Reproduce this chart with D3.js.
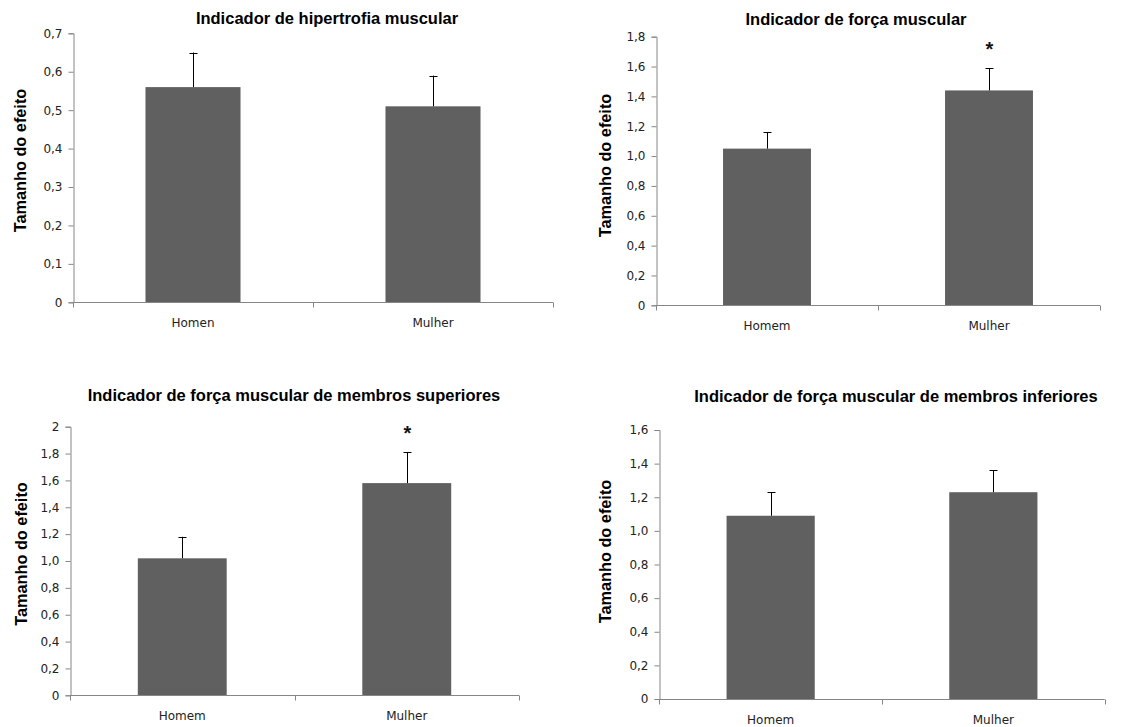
<!DOCTYPE html>
<html>
<head>
<meta charset="utf-8">
<script src="https://cdn.jsdelivr.net/npm/d3@7"></script>
<style>
  html, body { margin: 0; padding: 0; background: #fff; }
  svg { display: block; }
</style>
</head>
<body>
<svg id="chart" width="1145" height="727"></svg>
<script>
// ---- data ----
const categoriesP1 = ["Homen", "Mulher"];
const categories = ["Homem", "Mulher"];

const titles = [
  "Indicador de hipertrofia muscular",
  "Indicador de força muscular",
  "Indicador de força muscular de membros superiores",
  "Indicador de força muscular de membros inferiores"
];
const yAxisLabel = "Tamanho do efeito";

const hipertrofiaValues = [0.56, 0.51];
const hipertrofiaErrors = [0.09, 0.08];
const forcaValues = [1.05, 1.44];
const forcaErrors = [0.11, 0.15];
const superioresValues = [1.02, 1.58];
const superioresErrors = [0.16, 0.23];
const inferioresValues = [1.09, 1.23];
const inferioresErrors = [0.14, 0.13];

const significant1 = [false, false];
const significant2 = [false, true];
const significant3 = [false, true];
const significant4 = [false, false];

const ticks1 = [0, 0.1, 0.2, 0.3, 0.4, 0.5, 0.6, 0.7];
const tickLabels1 = ["0", "0,1", "0,2", "0,3", "0,4", "0,5", "0,6", "0,7"];
const ticks2 = [0, 0.2, 0.4, 0.6, 0.8, 1.0, 1.2, 1.4, 1.6, 1.8];
const tickLabels2 = ["0", "0,2", "0,4", "0,6", "0,8", "1,0", "1,2", "1,4", "1,6", "1,8"];
const ticks3 = [0, 0.2, 0.4, 0.6, 0.8, 1.0, 1.2, 1.4, 1.6, 1.8, 2.0];
const tickLabels3 = ["0", "0,2", "0,4", "0,6", "0,8", "1,0", "1,2", "1,4", "1,6", "1,8", "2"];
const ticks4 = [0, 0.2, 0.4, 0.6, 0.8, 1.0, 1.2, 1.4, 1.6];
const tickLabels4 = ["0", "0,2", "0,4", "0,6", "0,8", "1,0", "1,2", "1,4", "1,6"];

// ---- layout (positions only) ----
const panels = [
  { cats: categoriesP1, vals: hipertrofiaValues, errs: hipertrofiaErrors, sig: significant1,
    ticks: ticks1, labels: tickLabels1, title: titles[0],
    left: 73, right: 553, top: 33.3, bottom: 302.3, titleX: 327, titleY: 18, ylabX: 20, ylabY: 160.5 },
  { cats: categories, vals: forcaValues, errs: forcaErrors, sig: significant2,
    ticks: ticks2, labels: tickLabels2, title: titles[1],
    left: 656, right: 1100, top: 36.7, bottom: 305.3, titleX: 856, titleY: 19, ylabX: 605, ylabY: 165.5 },
  { cats: categories, vals: superioresValues, errs: superioresErrors, sig: significant3,
    ticks: ticks3, labels: tickLabels3, title: titles[2],
    left: 70, right: 519, top: 426.7, bottom: 695.3, titleX: 294, titleY: 395, ylabX: 21.7, ylabY: 554 },
  { cats: categories, vals: inferioresValues, errs: inferioresErrors, sig: significant4,
    ticks: ticks4, labels: tickLabels4, title: titles[3],
    left: 659.3, right: 1104.7, top: 430, bottom: 699, titleX: 896, titleY: 396.7, ylabX: 605, ylabY: 551.5 }
];

const svg = d3.select("#chart");
const axisColor = "#868686";
const barColor = "#606060";
const tickFont = "'DejaVu Sans', sans-serif";
const boldFont = "'Liberation Sans', Arial, sans-serif";

panels.forEach(p => {
  const g = svg.append("g");
  const yMax = p.ticks[p.ticks.length - 1];
  const y = d3.scaleLinear().domain([0, yMax]).range([p.bottom, p.top]);
  const x = d3.scaleBand().domain(p.cats).range([p.left, p.right])
    .paddingInner(0.604).paddingOuter(0.302);
  const step = x.step();

  // bars
  g.selectAll("rect.bar").data(p.vals).enter().append("rect")
    .attr("x", (d, i) => x(p.cats[i]))
    .attr("width", x.bandwidth())
    .attr("y", d => y(d))
    .attr("height", d => y(0) - y(d))
    .attr("fill", barColor);

  // error bars (upper only)
  const cx = i => Math.round(x(p.cats[i]) + x.bandwidth() / 2) + 0.5;
  p.vals.forEach((v, i) => {
    g.append("line").attr("x1", cx(i)).attr("x2", cx(i))
      .attr("y1", y(v)).attr("y2", y(v + p.errs[i]))
      .attr("stroke", "#000").attr("stroke-width", 1);
    g.append("line").attr("x1", cx(i) - 4).attr("x2", cx(i) + 4)
      .attr("y1", Math.round(y(v + p.errs[i])) + 0.5).attr("y2", Math.round(y(v + p.errs[i])) + 0.5)
      .attr("stroke", "#000").attr("stroke-width", 1);
    if (p.sig[i]) {
      g.append("text").attr("x", cx(i)).attr("y", y(v + p.errs[i]) - 12)
        .attr("text-anchor", "middle")
        .attr("font-family", boldFont).attr("font-weight", "bold")
        .attr("font-size", 20).attr("fill", "#111").text("*");
    }
  });

  // y axis
  const yAxis = d3.axisLeft(y).tickValues(p.ticks)
    .tickFormat((d, i) => p.labels[i]).tickSize(5).tickPadding(6);
  const ya = g.append("g").attr("transform", `translate(${Math.round(p.left) + 0.5},0)`).call(yAxis);
  ya.select(".domain").attr("stroke", axisColor);
  ya.selectAll(".tick line").attr("stroke", axisColor);
  ya.selectAll(".tick text").attr("font-family", tickFont).attr("font-size", 12).attr("fill", "#222");

  // x axis line
  const yBase = Math.round(p.bottom) + 0.5;
  g.append("line").attr("x1", p.left).attr("x2", p.right)
    .attr("y1", yBase).attr("y2", yBase).attr("stroke", axisColor);
  // category boundary ticks
  const bounds = [p.left].concat(p.cats.map((c, i) => p.left + step * (i + 1)));
  g.selectAll("line.xt").data(bounds).enter().append("line")
    .attr("x1", d => Math.round(d) + 0.5).attr("x2", d => Math.round(d) + 0.5)
    .attr("y1", yBase).attr("y2", yBase + 5).attr("stroke", axisColor);
  // category labels
  g.selectAll("text.xl").data(p.cats).enter().append("text")
    .attr("x", d => x(d) + x.bandwidth() / 2)
    .attr("y", p.bottom + 20.5).attr("dy", "0.35em")
    .attr("text-anchor", "middle")
    .attr("font-family", tickFont).attr("font-size", 12).attr("fill", "#222")
    .text(d => d);

  // title
  g.append("text").attr("x", p.titleX).attr("y", p.titleY).attr("dy", "0.35em")
    .attr("text-anchor", "middle")
    .attr("font-family", boldFont).attr("font-weight", "bold").attr("font-size", 16.5)
    .attr("fill", "#000").text(p.title);

  // y label
  g.append("text")
    .attr("transform", `translate(${p.ylabX},${p.ylabY}) rotate(-90)`)
    .attr("dy", "0.35em").attr("text-anchor", "middle")
    .attr("font-family", boldFont).attr("font-weight", "bold").attr("font-size", 16.3)
    .attr("fill", "#000").text(yAxisLabel);
});
</script>
</body>
</html>
